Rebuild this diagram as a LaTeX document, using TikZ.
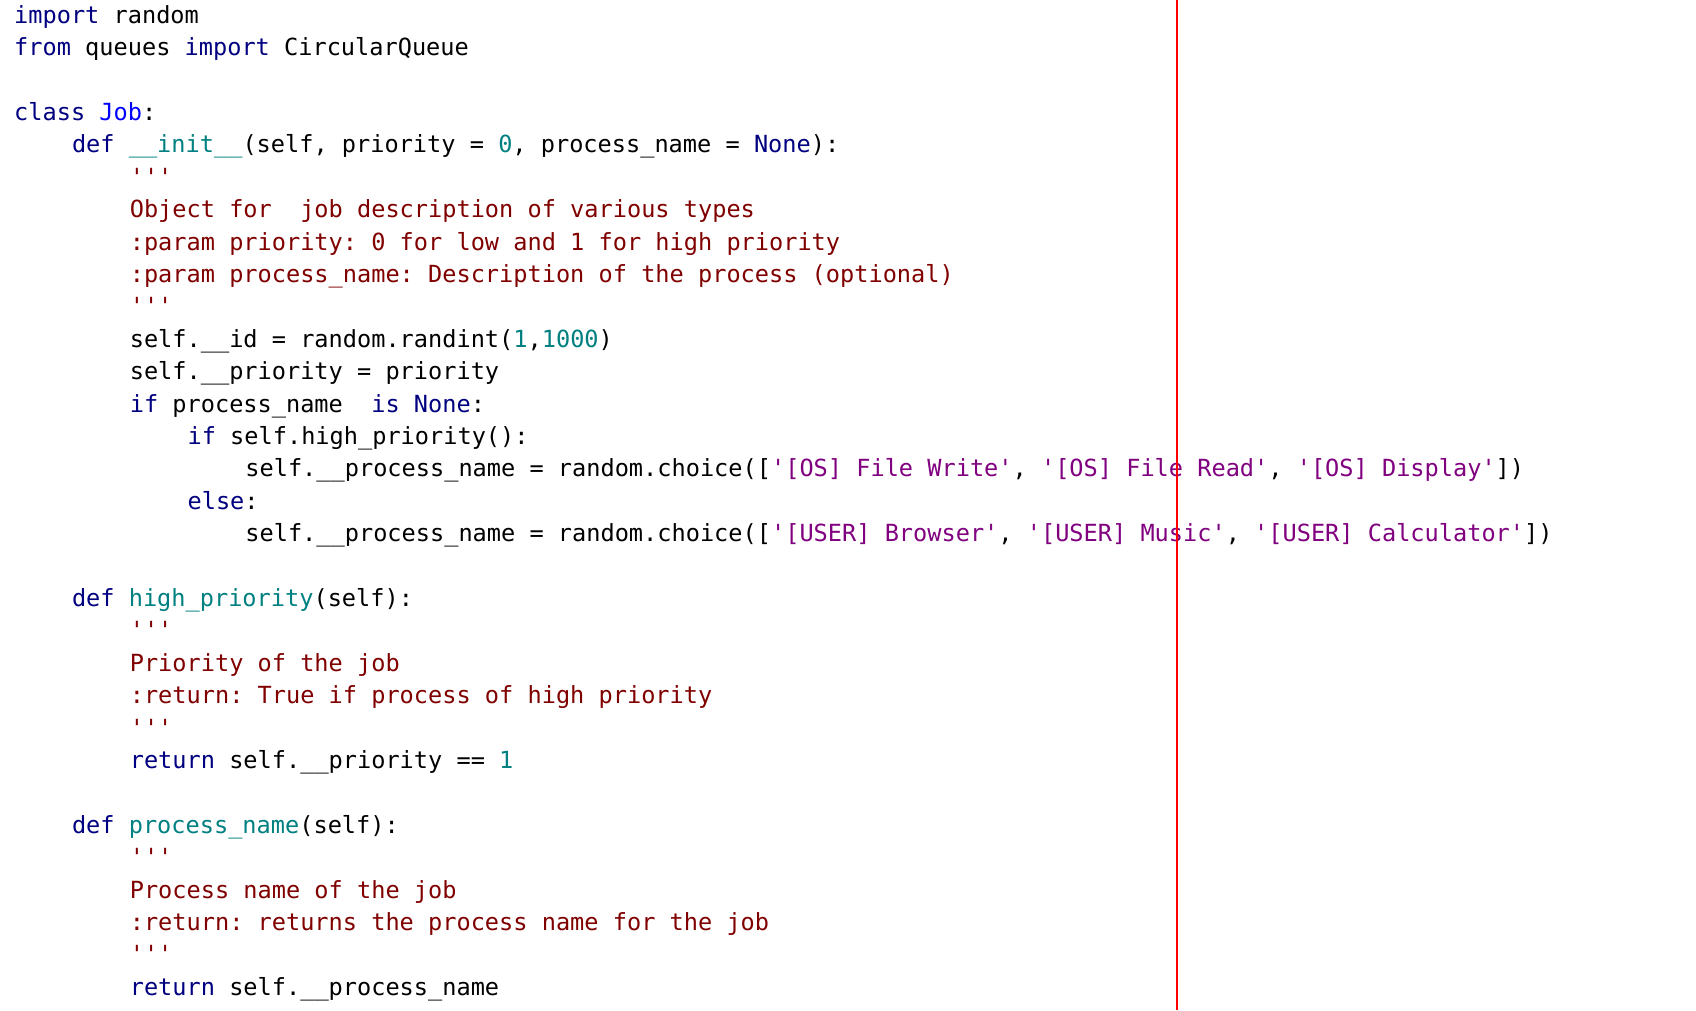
\documentclass[tikz,border=0pt]{standalone}
\usepackage{fontspec}
\setmonofont{DejaVu Sans Mono}
\definecolor{kw}{RGB}{0,0,128}
\definecolor{cl}{RGB}{0,0,255}
\definecolor{fn}{RGB}{0,128,128}
\definecolor{st}{RGB}{128,0,128}
\definecolor{dc}{RGB}{128,0,0}
\newcommand{\kw}[1]{\textcolor{kw}{#1}}
\newcommand{\fnn}[1]{\textcolor{fn}{#1}}
\newcommand{\st}[1]{\textcolor{st}{#1}}
\newcommand{\dc}[1]{\textcolor{dc}{#1}}
\tikzset{codeline/.style={anchor=base west,inner sep=0pt,font=\ttfamily\fontsize{23.6}{28}\selectfont}}
\begin{document}
\begin{tikzpicture}[x=1pt,y=1pt]
\fill[white] (0,0) rectangle (1696,1010);
\useasboundingbox (0,0) rectangle (1696,1010);
\def\cw{14.45}
\newcommand{\codeln}[3]{\node[codeline] (l#1) at ({14+#2*\cw},{1010-15.3-#1*32.4-8}) {#3};}
\codeln{0}{0}{\kw{import} random}
\codeln{1}{0}{\kw{from} queues \kw{import} CircularQueue}
\codeln{3}{0}{\kw{class} \textcolor{cl}{Job}:}
\codeln{4}{4}{\kw{def} \fnn{\_\_init\_\_}(self, priority = \fnn{0}, process\_name = \kw{None}):}
\codeln{5}{8}{\dc{'''}}
\codeln{6}{8}{\dc{Object for~~job description of various types}}
\codeln{7}{8}{\dc{:param priority: 0 for low and 1 for high priority}}
\codeln{8}{8}{\dc{:param process\_name: Description of the process (optional)}}
\codeln{9}{8}{\dc{'''}}
\codeln{10}{8}{self.\_\_id = random.randint(\fnn{1},\fnn{1000})}
\codeln{11}{8}{self.\_\_priority = priority}
\codeln{12}{8}{\kw{if} process\_name~~\kw{is} \kw{None}:}
\codeln{13}{12}{\kw{if} self.high\_priority():}
\codeln{14}{16}{self.\_\_process\_name = random.choice([\st{'[OS] File Write'}, \st{'[OS] File Read'}, \st{'[OS] Display'}])}
\codeln{15}{12}{\kw{else}:}
\codeln{16}{16}{self.\_\_process\_name = random.choice([\st{'[USER] Browser'}, \st{'[USER] Music'}, \st{'[USER] Calculator'}])}
\codeln{18}{4}{\kw{def} \fnn{high\_priority}(self):}
\codeln{19}{8}{\dc{'''}}
\codeln{20}{8}{\dc{Priority of the job}}
\codeln{21}{8}{\dc{:return: True if process of high priority}}
\codeln{22}{8}{\dc{'''}}
\codeln{23}{8}{\kw{return} self.\_\_priority == \fnn{1}}
\codeln{25}{4}{\kw{def} \fnn{process\_name}(self):}
\codeln{26}{8}{\dc{'''}}
\codeln{27}{8}{\dc{Process name of the job}}
\codeln{28}{8}{\dc{:return: returns the process name for the job}}
\codeln{29}{8}{\dc{'''}}
\codeln{30}{8}{\kw{return} self.\_\_process\_name}
\coordinate (rt) at (1177,1010);
\coordinate (rb) at (1177,0);
\draw[red,line width=1.6pt] (rt) -- (rb);
\end{tikzpicture}
\end{document}
